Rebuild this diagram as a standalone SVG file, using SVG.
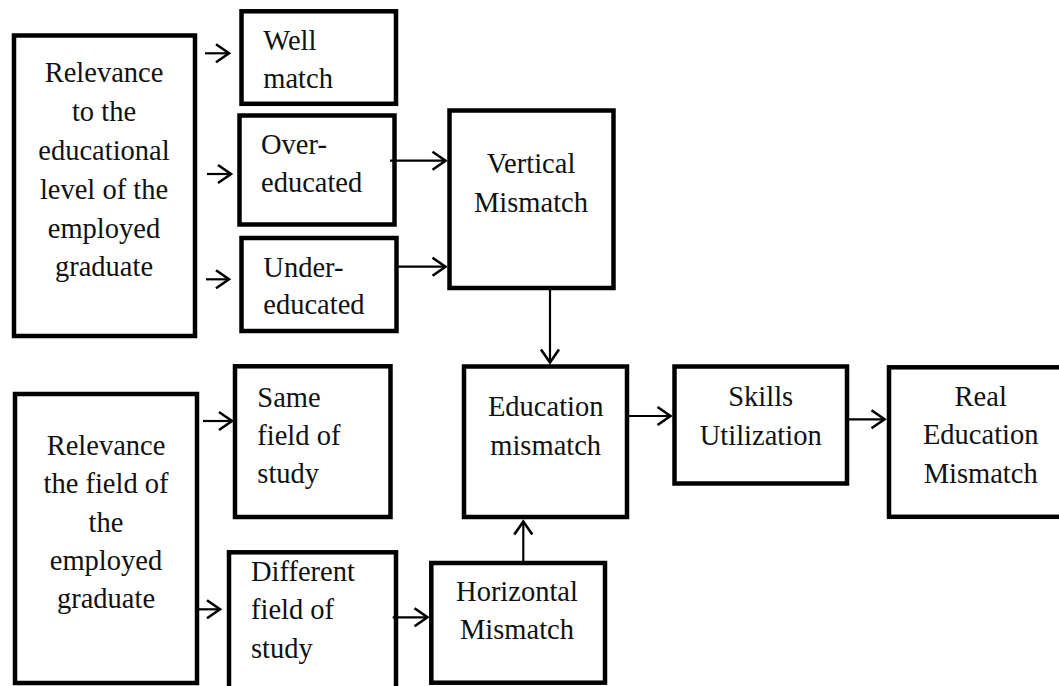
<svg xmlns="http://www.w3.org/2000/svg" width="1059" height="686" viewBox="0 0 1059 686">
<style>
.box{fill:#fff;stroke:#000;stroke-width:4.5}
.t{font-size:28.5px;fill:#111}
.c{text-anchor:middle}
.conn line{stroke:#000;stroke-width:2.2;marker-end:url(#ah)}
</style>
<defs>
<marker id="ah" markerUnits="userSpaceOnUse" viewBox="-16 -11 18 22" refX="0" refY="0" markerWidth="18" markerHeight="22" orient="auto" overflow="visible">
<path d="M-13,-9 L0,0 L-13,9" fill="none" stroke="#000" stroke-width="2.6"/>
</marker>
</defs>
<rect width="1059" height="686" fill="#fff"/>
<g font-family="Liberation Serif, DejaVu Serif, serif">
<g id="rel-level">
<rect class="box" x="14" y="35.5" width="181" height="300.5"/>
<text class="t c"><tspan x="104" y="81.7">Relevance</tspan><tspan x="104" y="120.7">to the</tspan><tspan x="104" y="160">educational</tspan><tspan x="104" y="199">level of the</tspan><tspan x="104" y="237.7">employed</tspan><tspan x="104" y="276">graduate</tspan></text>
</g>
<g id="well-match">
<rect class="box" x="241.5" y="11.3" width="154.5" height="92.5"/>
<text class="t"><tspan x="263.3" y="50">Well</tspan><tspan x="263.3" y="88.3">match</tspan></text>
</g>
<g id="over-educated">
<rect class="box" x="239.5" y="115.5" width="155" height="109"/>
<text class="t"><tspan x="261" y="154">Over-</tspan><tspan x="261" y="192.3">educated</tspan></text>
</g>
<g id="under-educated">
<rect class="box" x="241.5" y="238" width="155" height="93"/>
<text class="t"><tspan x="263.3" y="276.7">Under-</tspan><tspan x="263.3" y="314.3">educated</tspan></text>
</g>
<g id="vertical">
<rect class="box" x="449.5" y="110.5" width="164" height="177.5"/>
<text class="t c"><tspan x="531" y="173.3">Vertical</tspan><tspan x="531" y="211.7">Mismatch</tspan></text>
</g>
<g id="rel-field">
<rect class="box" x="15" y="394" width="182" height="289"/>
<text class="t c"><tspan x="106" y="455">Relevance</tspan><tspan x="106" y="493.3">the field of</tspan><tspan x="106" y="531.7">the</tspan><tspan x="106" y="570">employed</tspan><tspan x="106" y="608.3">graduate</tspan></text>
</g>
<g id="same-field">
<rect class="box" x="235" y="366.3" width="155.5" height="150.7"/>
<text class="t"><tspan x="257.3" y="406.7">Same</tspan><tspan x="257.3" y="445">field of</tspan><tspan x="257.3" y="483.3">study</tspan></text>
</g>
<g id="different-field">
<rect class="box" x="229" y="552.3" width="167" height="145"/>
<text class="t"><tspan x="251" y="580.7">Different</tspan><tspan x="251" y="619.3">field of</tspan><tspan x="251" y="658.3">study</tspan></text>
</g>
<g id="horizontal">
<rect class="box" x="431.3" y="563" width="173.7" height="119.7"/>
<text class="t c"><tspan x="517" y="601">Horizontal</tspan><tspan x="517" y="639.3">Mismatch</tspan></text>
</g>
<g id="education">
<rect class="box" x="464" y="366.5" width="163" height="150.5"/>
<text class="t c"><tspan x="545.7" y="416">Education</tspan><tspan x="545.7" y="455">mismatch</tspan></text>
</g>
<g id="skills">
<rect class="box" x="674.5" y="366.5" width="172.5" height="117"/>
<text class="t c"><tspan x="760.7" y="406">Skills</tspan><tspan x="760.7" y="445">Utilization</tspan></text>
</g>
<g id="real">
<rect class="box" x="889" y="367.3" width="200" height="149.5"/>
<text class="t c"><tspan x="980.7" y="405.7">Real</tspan><tspan x="980.7" y="444">Education</tspan><tspan x="980.7" y="482.7">Mismatch</tspan></text>
</g>
</g>
<g id="connectors" class="conn">
<line x1="205" y1="53.3" x2="229" y2="53.3"/>
<line x1="207" y1="174" x2="231" y2="174"/>
<line x1="206" y1="279.3" x2="229" y2="279.3"/>
<line x1="390" y1="160.7" x2="445.5" y2="160.7"/>
<line x1="395" y1="266.7" x2="445.5" y2="266.7"/>
<line x1="550" y1="290" x2="550" y2="362.5"/>
<line x1="203" y1="421" x2="232" y2="421"/>
<line x1="199" y1="609.3" x2="220" y2="609.3"/>
<line x1="392.7" y1="617.3" x2="427.5" y2="617.3"/>
<line x1="523.3" y1="561" x2="523.3" y2="521.5"/>
<line x1="629" y1="416" x2="670.5" y2="416"/>
<line x1="849" y1="419.3" x2="884.5" y2="419.3"/>
</g>
</svg>
